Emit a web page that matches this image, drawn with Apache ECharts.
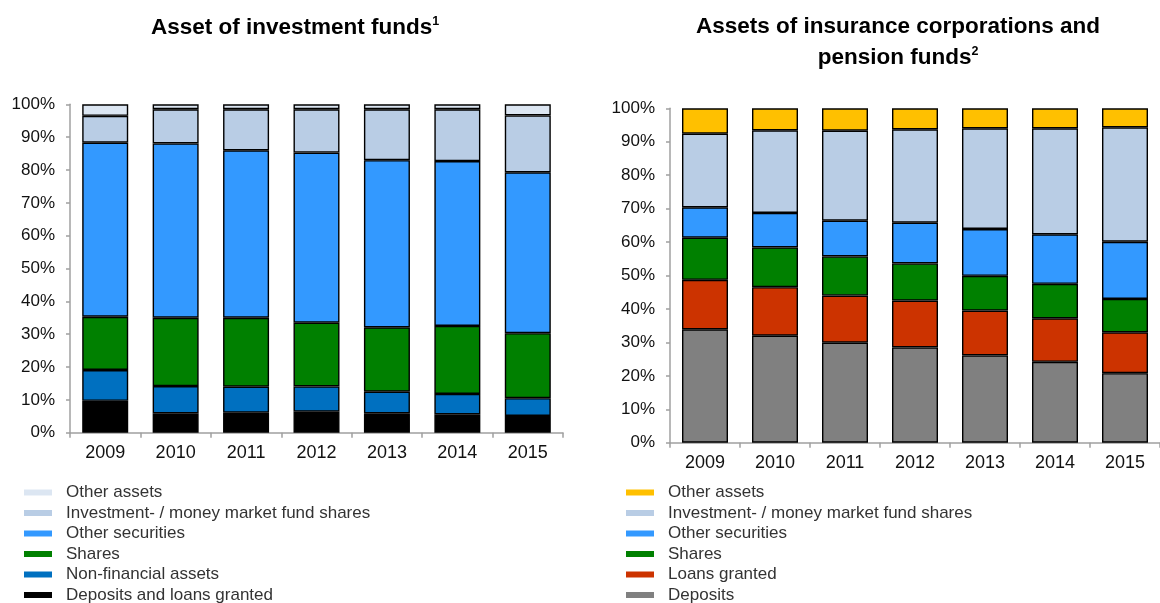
<!DOCTYPE html>
<html>
<head>
<meta charset="utf-8">
<script src="https://cdn.jsdelivr.net/npm/echarts@6/dist/echarts.min.js"></script>
<style>
  html, body { margin: 0; padding: 0; background: #fff; }
  #chart { width: 1160px; height: 603px; }
</style>
</head>
<body>
<div id="chart"></div>
<script>
// Years shown on both category axes
const years = ['2009', '2010', '2011', '2012', '2013', '2014', '2015'];
const yTicks = [0, 10, 20, 30, 40, 50, 60, 70, 80, 90, 100];

// Investment funds: asset shares in % (bottom to top of each bar)
const fundDeposits   = [9.7, 5.9, 6.1, 6.4, 5.9, 5.6, 5.1];
const fundNonFin     = [9.4, 8.3, 7.9, 7.7, 6.6, 6.2, 5.4];
const fundShares     = [16.2, 20.8, 21.0, 19.4, 19.6, 20.7, 19.8];
const fundOtherSec   = [53.0, 53.1, 51.0, 51.8, 50.9, 50.2, 49.0];
const fundInvShares  = [8.2, 10.4, 12.5, 13.2, 15.5, 15.8, 17.3];
const fundOther      = [3.5, 1.5, 1.5, 1.5, 1.5, 1.5, 3.4];

// Insurance corporations and pension funds: asset shares in %
const icpfDeposits   = [33.9, 32.0, 29.9, 28.5, 26.1, 24.2, 20.8];
const icpfLoans      = [14.8, 14.5, 14.1, 14.0, 13.4, 13.0, 12.2];
const icpfShares     = [12.6, 11.9, 11.7, 11.1, 10.4, 10.3, 10.0];
const icpfOtherSec   = [9.1, 10.3, 10.7, 12.2, 14.0, 14.8, 17.1];
const icpfInvShares  = [22.0, 24.7, 26.9, 27.9, 30.1, 31.7, 34.2];
const icpfOther      = [7.6, 6.6, 6.7, 6.3, 6.0, 6.0, 5.7];

const FONT = '"Liberation Sans", Arial, Helvetica, sans-serif';

const fundSeries = [
  { name: 'Deposits and loans granted', data: fundDeposits, color: '#000000' },
  { name: 'Non-financial assets', data: fundNonFin, color: '#0070c0' },
  { name: 'Shares', data: fundShares, color: '#008000' },
  { name: 'Other securities', data: fundOtherSec, color: '#3399ff' },
  { name: 'Investment- / money market fund shares', data: fundInvShares, color: '#b9cde5' },
  { name: 'Other assets', data: fundOther, color: '#dce6f2' }
];

const icpfSeries = [
  { name: 'Deposits', data: icpfDeposits, color: '#808080' },
  { name: 'Loans granted', data: icpfLoans, color: '#cc3300' },
  { name: 'Shares', data: icpfShares, color: '#008000' },
  { name: 'Other securities', data: icpfOtherSec, color: '#3399ff' },
  { name: 'Investment- / money market fund shares', data: icpfInvShares, color: '#b9cde5' },
  { name: 'Other assets', data: icpfOther, color: '#ffc000' }
];

function barSeries(list, idx, stack) {
  return list.map(s => ({
    name: s.name,
    type: 'bar',
    stack: stack,
    xAxisIndex: idx,
    yAxisIndex: idx,
    barWidth: 46,
    data: s.data,
    itemStyle: { color: s.color, borderColor: '#000', borderWidth: 1.4 },
    emphasis: { disabled: true }
  }));
}

// Vertical legend, top entry = top segment of the bars
function legendFor(list, left) {
  return {
    orient: 'vertical',
    left: left,
    top: 484,
    height: 130,
    padding: 0,
    icon: 'rect',
    itemWidth: 28,
    itemHeight: 6,
    itemGap: 3.5,
    selectedMode: false,
    textStyle: { fontFamily: FONT, fontSize: 17, lineHeight: 16, color: '#333', padding: [0, 0, 0, 9] },
    data: list.slice().reverse().map(s => ({
      name: s.name,
      itemStyle: { color: s.color, borderWidth: 0 }
    }))
  };
}

const axisLineStyle = { color: '#a0a0a0', width: 1.5 };

function xAxis(idx) {
  return {
    type: 'category',
    gridIndex: idx,
    data: years,
    axisLine: { lineStyle: axisLineStyle },
    axisTick: { show: true, length: 5, lineStyle: axisLineStyle },
    axisLabel: { fontFamily: FONT, fontSize: 18, color: '#111', margin: 11 }
  };
}

function yAxis(idx) {
  return {
    type: 'value',
    gridIndex: idx,
    min: yTicks[0],
    max: yTicks[yTicks.length - 1],
    interval: yTicks[1] - yTicks[0],
    splitLine: { show: false },
    axisLine: { show: true, lineStyle: axisLineStyle },
    axisTick: { show: true, length: 4, lineStyle: axisLineStyle },
    axisLabel: { fontFamily: FONT, fontSize: 17, color: '#111', margin: 15, formatter: '{value}%' }
  };
}

const titleRich = {
  t: { fontFamily: FONT, fontSize: 22.5, fontWeight: 'bold', color: '#1a1a1a', lineHeight: 31 },
  s: { fontFamily: FONT, fontSize: 12.5, fontWeight: 'bold', color: '#1a1a1a', verticalAlign: 'top', lineHeight: 12, padding: [3, 0, 0, 0] }
};

const chart = echarts.init(document.getElementById('chart'), null, { renderer: 'canvas' });
chart.setOption({
  animation: false,
  backgroundColor: '#fff',
  grid: [
    { left: 70, top: 104.3, width: 493, height: 328.4 },
    { left: 670, top: 108.3, width: 499, height: 334.4 }
  ],
  xAxis: [xAxis(0), xAxis(1)],
  yAxis: [yAxis(0), yAxis(1)],
  legend: [legendFor(fundSeries, 24), legendFor(icpfSeries, 626)],
  graphic: [
    {
      type: 'text',
      x: 295, y: 28,
      style: {
        text: '{t|Asset of investment funds}{s|1}',
        rich: titleRich,
        align: 'center',
        verticalAlign: 'middle'
      }
    },
    {
      type: 'text',
      x: 898, y: 42,
      style: {
        text: '{t|Assets of insurance corporations and}\n{t|pension funds}{s|2}',
        rich: titleRich,
        align: 'center',
        verticalAlign: 'middle'
      }
    }
  ],
  series: barSeries(fundSeries, 0, 'funds').concat(barSeries(icpfSeries, 1, 'icpf'))
});
</script>
</body>
</html>
